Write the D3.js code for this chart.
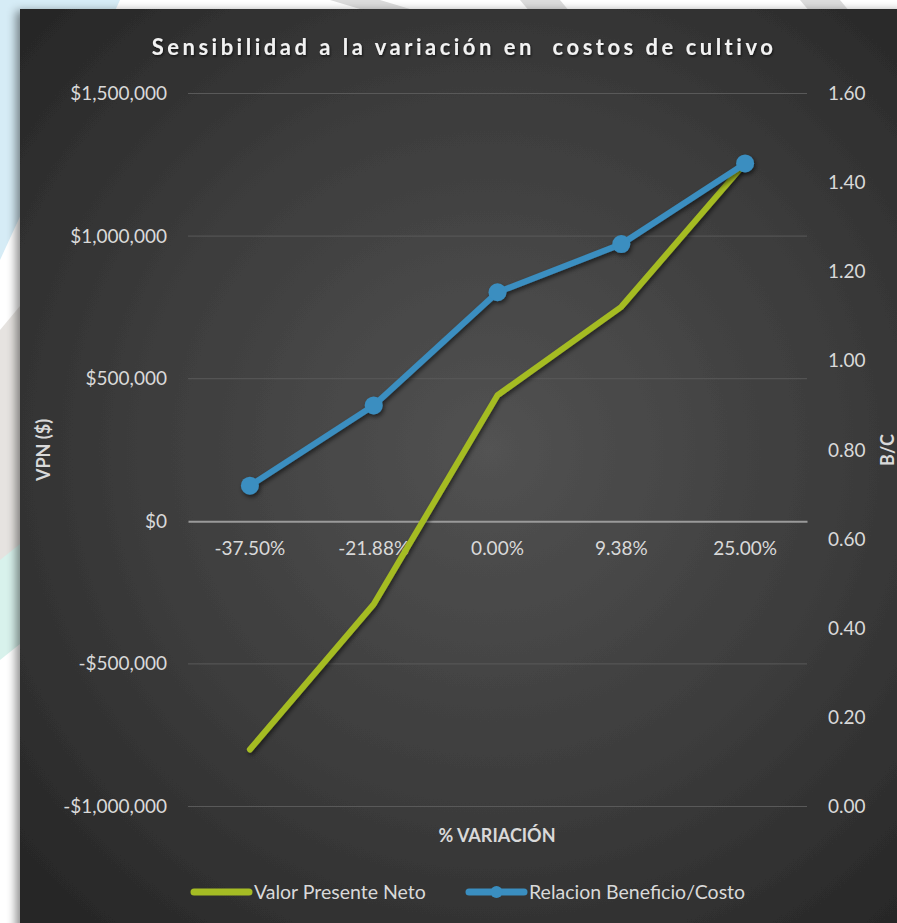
<!DOCTYPE html>
<html>
<head>
<meta charset="utf-8">
<script src="https://cdn.jsdelivr.net/npm/d3@7"></script>
<style>
  html, body { margin: 0; padding: 0; background: #ffffff; }
  svg { display: block; }
  text { font-family: Lato, "Noto Sans", sans-serif; }
</style>
</head>
<body>
<svg id="chart" width="897" height="923"></svg>
<script>
// Sensitivity of NPV and benefit/cost ratio to changes in crop costs
const categories = ["-37.50%", "-21.88%", "0.00%", "9.38%", "25.00%"];
const vpnValues = [-800000, -291000, 442000, 752000, 1256000];
const bcValues = [0.72, 0.90, 1.154, 1.262, 1.443];
const leftTicks = [-1000000, -500000, 0, 500000, 1000000, 1500000];
const rightTicks = [0, 0.2, 0.4, 0.6, 0.8, 1.0, 1.2, 1.4, 1.6];
const seriesNames = ["Valor Presente Neto", "Relacion Beneficio/Costo"];

const W = 897, H = 923;
const svg = d3.select("#chart");
const defs = svg.append("defs");

// panel background gradient
const rg = defs.append("radialGradient").attr("id", "bg")
  .attr("gradientUnits", "userSpaceOnUse")
  .attr("cx", 490).attr("cy", 450).attr("r", 640);
rg.append("stop").attr("offset", "0%").attr("stop-color", "#525252");
rg.append("stop").attr("offset", "55%").attr("stop-color", "#3c3c3c");
rg.append("stop").attr("offset", "100%").attr("stop-color", "#262626");

const sh = defs.append("filter").attr("id", "panelShadow")
  .attr("x", "-10%").attr("y", "-10%").attr("width", "120%").attr("height", "120%");
sh.append("feDropShadow").attr("dx", -4).attr("dy", 2).attr("stdDeviation", 5)
  .attr("flood-color", "#000").attr("flood-opacity", 0.45);

const ls = defs.append("filter").attr("id", "lineShadow")
  .attr("x", "-10%").attr("y", "-10%").attr("width", "120%").attr("height", "120%");
ls.append("feDropShadow").attr("dx", 1.5).attr("dy", 2.5).attr("stdDeviation", 2)
  .attr("flood-color", "#000").attr("flood-opacity", 0.55);

const ts = defs.append("filter").attr("id", "textShadow");
ts.append("feDropShadow").attr("dx", 1).attr("dy", 1.5).attr("stdDeviation", 1)
  .attr("flood-color", "#000").attr("flood-opacity", 0.6);

// faint decorative shapes on the page behind the panel
svg.append("path").attr("d", "M0,0 L120,0 L0,260 Z").attr("fill", "#d6ecf6");
svg.append("path").attr("d", "M0,330 L25,300 L25,560 L0,600 Z").attr("fill", "#e6e3e0");
svg.append("path").attr("d", "M0,560 L25,540 L25,640 L0,660 Z").attr("fill", "#d8f2ec");
svg.append("path").attr("d", "M330,0 L380,0 L420,12 L370,12 Z").attr("fill", "#dcdcdc");
svg.append("path").attr("d", "M520,0 L560,0 L570,12 L530,12 Z").attr("fill", "#dcdcdc");
svg.append("path").attr("d", "M800,0 L840,0 L850,12 L810,12 Z").attr("fill", "#dcdcdc");

// chart panel
svg.append("rect").attr("x", 20).attr("y", 9).attr("width", W - 20 + 10).attr("height", H - 9 + 10)
  .attr("fill", "url(#bg)").attr("filter", "url(#panelShadow)");

const plot = { left: 188, right: 807, top: 93.5, bottom: 806.5 };

const x = d3.scaleBand().domain(categories).range([plot.left, plot.right]);
const yL = d3.scaleLinear().domain([-1000000, 1500000]).range([plot.bottom, plot.top]);
const yR = d3.scaleLinear().domain([0, 1.6]).range([plot.bottom, plot.top]);

const money = v => (v < 0 ? "-$" : "$") + d3.format(",")(Math.abs(v));
const tickFont = "19px";

// gridlines
svg.append("g").selectAll("line").data(leftTicks.filter(d => d !== 0)).join("line")
  .attr("x1", plot.left).attr("x2", plot.right)
  .attr("y1", d => yL(d)).attr("y2", d => yL(d))
  .attr("stroke", "#595959").attr("stroke-width", 1);

// left axis labels
const axL = svg.append("g").attr("transform", `translate(${plot.left},0)`)
  .call(d3.axisLeft(yL).tickValues(leftTicks).tickFormat(money).tickSize(0).tickPadding(21));
axL.select(".domain").remove();
axL.selectAll("text").attr("fill", "#d9d9d9").style("font-size", tickFont)
  .style("font-family", "Lato, 'Noto Sans', sans-serif");

// right axis labels
const axR = svg.append("g").attr("transform", `translate(${plot.right},0)`)
  .call(d3.axisRight(yR).tickValues(rightTicks).tickFormat(d3.format(".2f")).tickSize(0).tickPadding(21));
axR.select(".domain").remove();
axR.selectAll("text").attr("fill", "#d9d9d9").style("font-size", tickFont)
  .style("font-family", "Lato, 'Noto Sans', sans-serif");

// category axis at zero
const axX = svg.append("g").attr("transform", `translate(0,${yL(0)})`)
  .call(d3.axisBottom(x).tickSize(0).tickPadding(20));
axX.select(".domain").attr("stroke", "#9a9a9a").attr("stroke-width", 2);
axX.selectAll("text").attr("fill", "#d9d9d9").style("font-size", tickFont)
  .style("font-family", "Lato, 'Noto Sans', sans-serif");

// series lines
const cx = d => x(d) + x.bandwidth() / 2;
const green = "#a5bc24", blue = "#3a8ec0";

const lineL = d3.line().x((d, i) => cx(categories[i])).y(d => yL(d));
const lineR = d3.line().x((d, i) => cx(categories[i])).y(d => yR(d));

svg.append("path").datum(vpnValues).attr("d", lineL)
  .attr("fill", "none").attr("stroke", green).attr("stroke-width", 6)
  .attr("stroke-linecap", "round").attr("stroke-linejoin", "round")
  .attr("filter", "url(#lineShadow)");

const gB = svg.append("g").attr("filter", "url(#lineShadow)");
gB.append("path").datum(bcValues).attr("d", lineR)
  .attr("fill", "none").attr("stroke", blue).attr("stroke-width", 6)
  .attr("stroke-linecap", "round").attr("stroke-linejoin", "round");
gB.selectAll("circle").data(bcValues).join("circle")
  .attr("cx", (d, i) => cx(categories[i])).attr("cy", d => yR(d))
  .attr("r", 9).attr("fill", blue);

// title
svg.append("text").attr("x", 464).attr("y", 55).attr("text-anchor", "middle")
  .attr("fill", "#f2f2f2").style("font-size", "22px").style("font-weight", "bold")
  .style("letter-spacing", "3.5px").style("white-space", "pre").attr("filter", "url(#textShadow)")
  .text("Sensibilidad a la variación en  costos de cultivo");

// axis titles
svg.append("text").attr("transform", `translate(50,450) rotate(-90)`).attr("text-anchor", "middle")
  .attr("fill", "#d9d9d9").style("font-size", "18px").style("font-weight", "bold").text("VPN ($)");
svg.append("text").attr("transform", `translate(894,450) rotate(-90)`).attr("text-anchor", "middle")
  .attr("fill", "#d9d9d9").style("font-size", "18px").style("font-weight", "bold").text("B/C");
svg.append("text").attr("x", 497).attr("y", 842).attr("text-anchor", "middle")
  .attr("fill", "#d9d9d9").style("font-size", "18px").style("font-weight", "bold").text("% VARIACIÓN");

// legend
const leg = svg.append("g");
const legY = 892;
const legItems = [
  { name: seriesNames[0], color: green, x0: 194, marker: false },
  { name: seriesNames[1], color: blue, x0: 469, marker: true }
];
legItems.forEach(it => {
  leg.append("line").attr("x1", it.x0).attr("x2", it.x0 + 55).attr("y1", legY).attr("y2", legY)
    .attr("stroke", it.color).attr("stroke-width", 7).attr("stroke-linecap", "round");
  if (it.marker) leg.append("circle").attr("cx", it.x0 + 27.5).attr("cy", legY).attr("r", 6).attr("fill", it.color);
  leg.append("text").attr("x", it.x0 + 60).attr("y", legY + 7).attr("fill", "#d9d9d9")
    .style("font-size", "19.5px").text(it.name);
});
</script>
</body>
</html>
